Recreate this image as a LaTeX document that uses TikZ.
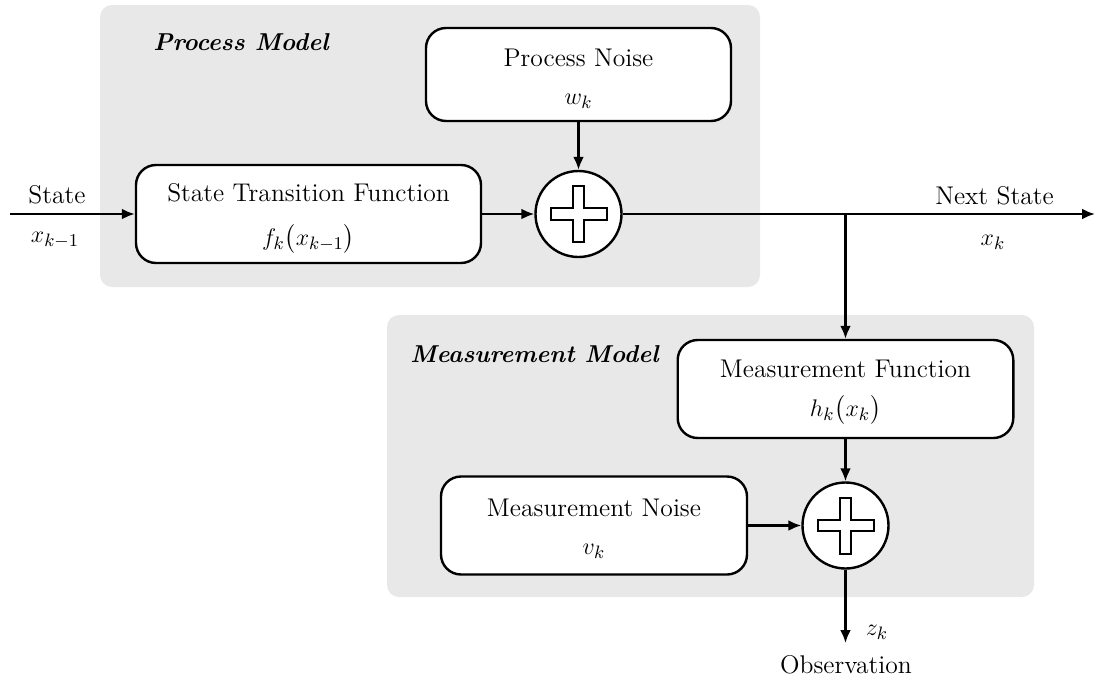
\documentclass[tikz,border=0pt]{standalone}
\usepackage{amsmath}
\usetikzlibrary{arrows.meta}
\definecolor{panelgray}{HTML}{E8E8E8}
\begin{document}
\begin{tikzpicture}[x=0.5pt,y=-0.5pt,
  every node/.style={font=\fontsize{12.8}{15}\selectfont},
  panel/.style={fill=panelgray, draw=none, rounded corners=6pt},
  blockbox/.style={draw, line width=1.2pt, rounded corners=10pt, fill=white, inner sep=0pt},
  sumnode/.style={draw, circle, line width=1.2pt, fill=white, minimum size=43pt, inner sep=0pt},
  txt/.style={anchor=base, inner sep=0pt},
  paneltitle/.style={anchor=base west, inner sep=0pt, font=\fontsize{12.2}{14}\selectfont\bfseries\itshape},
  flow/.style={line width=1.2pt, -{Latex[length=6.5pt,width=5.5pt]}},
  plusmark/.style={line width=1pt, fill=white, line join=miter},
]
\useasboundingbox (0,0) rectangle (1100,681);

% panels
\path[panel] (100,5) rectangle (760,287);
\path[panel] (387,315) rectangle (1034,597);
\node[paneltitle] (pmtitle) at (153,50) {Process Model};
\node[paneltitle] (mmtitle) at (410,362) {Measurement Model};

% blocks
\node[blockbox, minimum width=152.5pt, minimum height=46.5pt] (pn) at (578.5,74.5) {};
\node[blockbox, minimum width=172.5pt, minimum height=49pt] (st) at (308.5,214) {};
\node[sumnode] (s1) at (578.5,214) {};
\node[blockbox, minimum width=167.8pt, minimum height=49pt] (mf) at (845.5,389) {};
\node[blockbox, minimum width=153pt, minimum height=49pt] (mn) at (594,525.5) {};
\node[sumnode] (s2) at (845.5,525.5) {};

% plus signs
\foreach \s in {s1,s2}{
  \draw[plusmark, shift={(\s.center)}]
    (-28,-5.75) -- (-5.75,-5.75) -- (-5.75,-28) -- (5.75,-28) -- (5.75,-5.75) -- (28,-5.75)
    -- (28,5.75) -- (5.75,5.75) -- (5.75,28) -- (-5.75,28) -- (-5.75,5.75) -- (-28,5.75) -- cycle;
}

% block texts
\node[txt] (pnt1) at (578.5,66) {Process Noise};
\node[txt] (pnt2) at (578.5,104) {$w_k$};
\node[txt] (stt1) at (308.5,201) {State Transition Function};
\node[txt] (stt2) at (308.5,245) {$f_k\bigl(x_{k-1}\bigr)$};
\node[txt] (mft1) at (845.5,377) {Measurement Function};
\node[txt] (mft2) at (845.5,416) {$h_k\bigl(x_k\bigr)$};
\node[txt] (mnt1) at (594,516) {Measurement Noise};
\node[txt] (mnt2) at (594,554) {$v_k$};

% outer labels
\node[txt] (inl1) at (57,203) {State};
\node[txt] (inl2) at (55,242) {$x_{k-1}$};
\node[txt] (outl1) at (994.5,204) {Next State};
\node[txt] (outl2) at (993,245) {$x_k$};
\node[txt] (zl) at (877,635) {$z_k$};
\node[txt] (obs) at (846,673) {Observation};

% connector end points
\coordinate (in) at (10,214);
\coordinate (out) at (1095,214);
\coordinate (branch) at (845.5,214);
\coordinate (obsend) at (845.5,643);

% connectors
\draw[flow] (in) -- (st.west);
\draw[flow] (st.east) -- (s1.west);
\draw[flow] (pn.south) -- (s1.north);
\draw[flow] (s1.east) -- (out);
\draw[flow] (branch) -- (mf.north);
\draw[flow] (mf.south) -- (s2.north);
\draw[flow] (mn.east) -- (s2.west);
\draw[flow] (s2.south) -- (obsend);
\end{tikzpicture}
\end{document}
